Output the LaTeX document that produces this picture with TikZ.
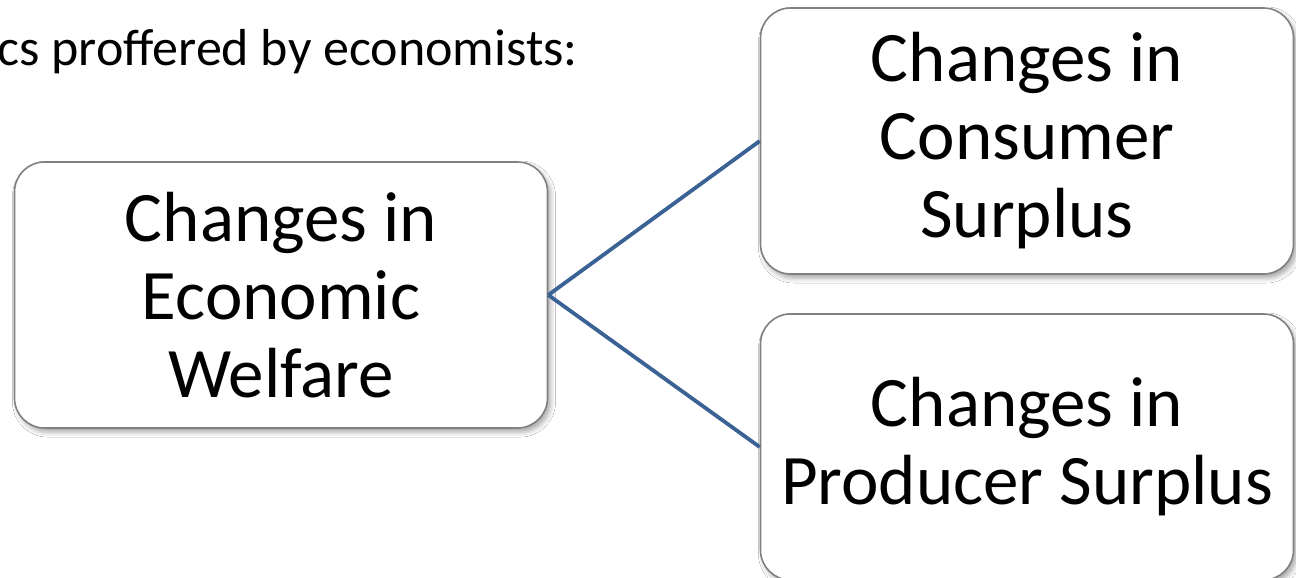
\documentclass[tikz,border=0pt]{standalone}
\usepackage{fontspec}
\setmainfont{Carlito}
\usetikzlibrary{shadows.blur}
\definecolor{linkblue}{RGB}{58,98,148}
\definecolor{boxgray}{RGB}{128,128,128}
\tikzset{
  box/.style={draw=boxgray, line width=1.6pt, fill=white, rounded corners=30pt,
    minimum width=533pt, minimum height=266pt, align=center,
    font=\fontsize{71}{78}\selectfont,
    blur shadow={shadow xshift=3pt, shadow yshift=-4pt, shadow blur radius=5pt, shadow opacity=35}},
  link/.style={draw=linkblue, line width=3.8pt},
  heading/.style={font=\fontsize{52}{60}\selectfont, anchor=base east, inner sep=0pt}
}
\begin{document}
\begin{tikzpicture}[x=1pt, y=-1pt]
\useasboundingbox (0,0) rectangle (1296,578);
\clip (0,0) rectangle (1296,578);
\fill[white] (0,0) rectangle (1296,578);
\node[heading] (head) at (578,66) {cs proffered by economists:};
\node[box] (welfare) at (281,295) {Changes in\\Economic\\Welfare};
\node[box] (consumer) at (1027,141) {Changes in\\Consumer\\Surplus};
\node[box] (producer) at (1027,447) {Changes in\\Producer Surplus};
\draw[link] (welfare.east) -- (consumer.west);
\draw[link] (welfare.east) -- (producer.west);
\end{tikzpicture}
\end{document}
